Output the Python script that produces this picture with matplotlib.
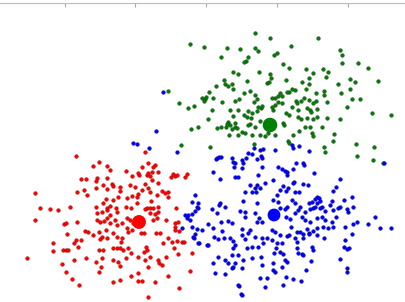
import numpy as np
import matplotlib
matplotlib.use("Agg")
import matplotlib.pyplot as plt

# point positions (x, y in image units, y grows downward)
red_pts = [
    (76, 156), (93, 166), (99, 162), (107, 166), (110, 170), (126, 171), (132, 176),
    (81, 179), (86, 179), (97, 178), (96, 181), (107, 178), (112, 184), (113, 186),
    (120, 187), (130, 185), (135, 187), (35, 193), (77, 192), (84, 190), (87, 195),
    (96, 188), (103, 185), (107, 189), (120, 191), (118, 197), (106, 199), (113, 200),
    (103, 203), (110, 206), (127, 198), (132, 196), (40, 208), (50, 209), (58, 210),
    (70, 207), (96, 207), (107, 208), (116, 208), (126, 207), (131, 208),
    (35, 220), (64, 224), (66, 223), (77, 222), (97, 213), (102, 212), (107, 210),
    (110, 215), (117, 212), (97, 220), (100, 222), (104, 221), (107, 218), (110, 223),
    (115, 220), (117, 225), (122, 223), (127, 218), (130, 220), (133, 223), (127, 228),
    (128, 232), (132, 230), (85, 231), (88, 232), (93, 235), (99, 232), (106, 230),
    (113, 233), (102, 237), (100, 239), (107, 238), (67, 234), (76, 240), (81, 240),
    (74, 243), (78, 247), (117, 237), (122, 238), (121, 242), (53, 243), (53, 251),
    (63, 250), (66, 250), (68, 250), (99, 250), (103, 250), (113, 248), (117, 248),
    (120, 248), (123, 250), (128, 248), (131, 253), (27, 258), (74, 260), (86, 258),
    (102, 258), (113, 260), (118, 262), (126, 258), (96, 262), (101, 267), (99, 272),
    (120, 266), (62, 264), (66, 272), (72, 279), (79, 285), (113, 282), (120, 280),
    (131, 276),
    (145, 152), (148, 163), (155, 165), (153, 167), (142, 167), (139, 175), (138, 173),
    (147, 175), (148, 173), (152, 172), (150, 176), (158, 172), (158, 183), (152, 180),
    (145, 184), (148, 188), (150, 192), (142, 190), (138, 194), (137, 197), (151, 201),
    (157, 195), (162, 191), (165, 193), (168, 197), (168, 192), (171, 177), (173, 174),
    (175, 176), (177, 175), (185, 177), (187, 174), (147, 208), (150, 208), (158, 207),
    (137, 203), (145, 209), (153, 208), (158, 212), (155, 214), (150, 213), (157, 218),
    (153, 220), (176, 208), (141, 233), (144, 233), (156, 233), (160, 233), (166, 220),
    (175, 223), (178, 222), (175, 227), (175, 230), (179, 231), (168, 238), (172, 242),
    (177, 241), (182, 242), (184, 242), (174, 248), (163, 243), (146, 247), (147, 250),
    (144, 252), (138, 257), (145, 260), (150, 257), (158, 260), (159, 263), (162, 265),
    (166, 257), (178, 254), (192, 253), (148, 267), (138, 273), (168, 276), (138, 281),
    (142, 281), (155, 282), (190, 271), (179, 288), (148, 297),
]

green_pts = [
    (255, 33), (190, 44), (204, 47), (227, 48), (240, 49), (255, 48), (258, 51),
    (221, 57), (248, 57), (246, 61), (244, 62), (259, 72), (233, 72), (238, 74),
    (224, 80), (225, 84), (228, 86), (232, 84), (233, 89), (247, 81), (216, 86),
    (168, 91), (209, 92), (244, 93), (250, 91), (255, 95), (257, 99), (202, 98),
    (204, 101), (205, 99), (206, 97), (213, 98), (222, 102), (235, 101), (239, 99),
    (254, 102), (258, 107), (261, 108), (262, 106), (179, 103), (188, 108), (194, 106),
    (212, 110), (230, 110), (238, 110), (248, 111), (252, 113), (257, 111), (208, 119),
    (233, 116), (244, 115), (247, 117), (251, 118), (260, 121), (228, 122), (235, 123),
    (250, 124),
    (270, 38), (318, 38), (291, 46), (274, 55), (277, 53), (340, 50), (342, 55),
    (283, 64), (289, 68), (342, 63), (358, 63), (368, 68), (306, 69), (323, 69),
    (328, 72), (326, 77), (313, 73), (309, 78), (270, 74), (271, 78), (286, 80),
    (302, 82), (309, 84), (267, 83), (269, 82), (350, 79), (355, 82), (378, 81),
    (338, 84), (292, 89), (295, 90), (289, 92), (287, 92), (306, 89), (316, 93),
    (324, 91), (324, 95), (341, 93), (350, 89), (280, 93), (278, 96), (282, 96),
    (275, 98), (272, 98), (304, 98), (309, 100), (301, 101), (296, 101), (297, 103),
    (316, 101), (313, 103), (327, 102), (352, 99), (360, 99), (278, 102), (282, 103),
    (275, 105), (272, 107), (273, 110), (292, 107), (298, 110), (307, 108), (310, 110),
    (311, 112), (317, 109), (347, 107), (286, 113), (289, 115), (298, 117), (301, 119),
    (307, 118), (313, 119), (317, 117), (327, 118), (340, 119), (372, 113), (391, 115),
    (283, 123), (284, 125), (305, 127), (310, 127), (322, 127), (299, 131), (312, 133),
    (313, 136), (293, 135), (334, 134), (275, 135), (333, 141), (288, 141), (289, 143),
    (324, 147), (325, 152), (356, 144), (374, 147), (357, 156), (373, 160), (383, 163),
    (191, 129), (198, 127), (217, 128), (221, 127), (226, 127), (227, 124), (230, 125),
    (235, 127), (237, 128), (232, 129), (242, 132), (245, 133), (238, 135), (248, 125),
    (255, 127), (252, 135), (260, 135), (265, 136), (268, 133), (229, 135), (181, 145),
    (210, 147), (254, 144),
]

blue_pts = [
    (163, 92), (133, 143), (137, 144), (156, 131), (149, 148), (177, 152), (254, 148),
    (260, 150), (263, 149), (248, 153), (252, 154), (217, 158), (219, 157), (221, 157),
    (216, 159), (232, 158), (233, 162), (234, 167), (235, 163), (242, 160), (243, 163),
    (246, 158), (242, 168), (261, 156), (262, 158), (257, 159), (213, 172), (220, 179),
    (235, 177), (238, 177), (258, 175), (262, 167), (250, 185), (257, 185), (255, 188),
    (260, 188), (265, 183), (245, 192), (252, 192), (256, 192), (195, 195), (192, 202),
    (198, 203), (197, 207), (225, 207), (243, 201), (257, 203), (220, 203), (219, 205),
    (292, 145), (299, 146), (293, 148), (275, 150), (309, 151), (384, 163), (296, 163),
    (303, 163), (304, 165), (278, 167), (282, 169), (285, 171), (287, 172), (287, 175),
    (293, 169), (314, 173), (273, 180), (340, 179), (294, 182), (293, 183), (303, 184),
    (308, 185), (336, 187), (333, 191), (283, 186), (288, 188), (280, 190), (286, 191),
    (295, 192), (299, 192), (317, 197), (319, 198), (315, 199), (320, 201), (312, 202),
    (317, 203), (309, 203), (352, 197), (344, 200), (332, 201), (330, 205), (277, 195),
    (273, 200), (278, 202), (292, 200), (295, 203), (287, 207), (280, 208), (300, 207),
    (313, 208), (322, 207), (340, 207), (353, 207),
    (188, 215), (192, 214), (195, 211), (198, 208), (190, 220), (212, 209), (217, 213),
    (240, 211), (245, 212), (245, 217), (255, 213), (259, 218), (262, 222), (257, 222),
    (182, 228), (192, 227), (197, 229), (195, 234), (194, 238), (198, 243), (202, 230),
    (208, 224), (213, 228), (221, 222), (228, 221), (232, 223), (222, 231), (214, 237),
    (208, 245), (218, 239), (224, 238), (230, 238), (233, 241), (242, 229), (242, 235),
    (248, 233), (250, 230), (255, 237), (245, 239), (235, 245), (233, 248), (232, 255),
    (218, 257), (213, 263), (225, 260), (228, 263), (238, 255), (247, 248), (252, 247),
    (258, 247), (263, 243), (267, 238), (262, 238), (243, 260), (252, 258), (261, 257),
    (235, 263), (232, 268), (242, 268), (215, 273), (225, 274), (260, 278), (267, 278),
    (265, 287), (239, 286), (241, 294), (262, 265),
    (285, 209), (298, 210), (305, 212), (310, 209), (315, 207), (320, 208), (325, 211),
    (333, 210), (338, 208), (347, 209), (348, 212), (286, 217), (290, 219), (295, 213),
    (302, 217), (305, 220), (310, 222), (317, 218), (322, 217), (325, 220), (332, 222),
    (336, 217), (357, 222), (353, 224), (368, 224), (375, 217), (380, 228), (391, 228),
    (345, 227), (352, 234), (328, 228), (333, 227), (323, 227), (317, 228), (313, 231),
    (309, 233), (307, 229), (300, 232), (303, 234), (297, 232), (272, 230), (275, 232),
    (280, 235), (287, 236), (291, 227), (289, 235), (295, 238), (297, 242), (303, 238),
    (309, 234), (317, 235), (324, 238), (345, 240), (344, 247), (347, 249), (349, 248),
    (272, 240), (277, 243), (282, 243), (276, 248), (280, 252), (274, 253), (283, 254),
    (297, 248), (298, 253), (302, 254), (303, 255), (312, 247), (313, 250), (340, 259),
    (285, 260), (287, 262), (311, 261), (273, 263), (282, 267), (273, 270), (275, 272),
    (306, 270), (347, 268), (347, 272), (286, 277), (293, 279), (301, 281), (283, 285),
    (185, 215), (187, 218), (193, 237), (199, 243), (207, 245), (233, 267), (238, 285),
    (242, 295),
]

centroids = [(139, 222), (270, 125), (274, 215)]
colors = ["#ff0000", "#008000", "#0000ff"]
edge_colors = ["#a00000", "#1c3a1c", "#000090"]
centroid_sizes = [100, 110, 85]
tick_pos = [65, 135, 206, 277, 348]

fig = plt.figure(figsize=(4.06, 3.02), dpi=100)
ax = fig.add_axes([0, 0, 1, 299 / 302])

for pts, c, ec in zip([red_pts, green_pts, blue_pts], colors, edge_colors):
    p = np.array(pts)
    ax.scatter(p[:, 0], p[:, 1], s=7, c=c, edgecolors=ec, linewidths=0.3, zorder=2)

for (cx, cy), c, sz in zip(centroids, colors, centroid_sizes):
    ax.scatter(cx, cy, s=sz, c=c, edgecolors="none", zorder=3)

ax.set_xlim(0, 406)
ax.set_ylim(302, 3)
ax.set_xticks(tick_pos)
ax.set_yticks([])
ax.xaxis.tick_top()
ax.tick_params(axis="x", direction="in", length=3, width=0.8, color="#aaaaaa",
               labeltop=False, labelbottom=False)
for side in ["left", "right", "bottom"]:
    ax.spines[side].set_visible(False)
ax.spines["top"].set_color("#bbbbbb")
ax.spines["top"].set_linewidth(0.8)

fig.savefig("out.png", dpi=100)
